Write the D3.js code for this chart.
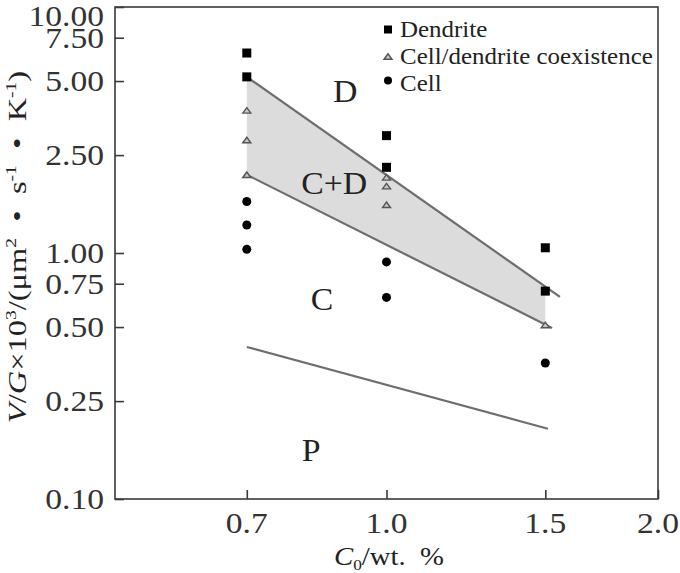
<!DOCTYPE html>
<html><head><meta charset="utf-8">
<script src="https://cdn.jsdelivr.net/npm/d3@7"></script>
<style>
html,body{margin:0;padding:0;background:#fff;}
svg{display:block;}
svg text{font-family:"Liberation Serif","Times New Roman",serif;}
</style></head>
<body>
<svg id="chart" width="680" height="573"></svg>
<script>
// ---- data ----
const yTicks = [0.10, 0.25, 0.50, 0.75, 1.00, 2.50, 5.00, 7.50, 10.00];
const yTickLabels = ["0.10","0.25","0.50","0.75","1.00","2.50","5.00","7.50","10.00"];
const xTicks = [0.7, 1.0, 1.5, 2.0];
const xTickLabels = ["0.7","1.0","1.5","2.0"];

const dendriteX = [0.7, 0.7, 1.0, 1.0, 1.5, 1.5];
const dendriteY = [6.5, 5.2, 3.0, 2.23, 1.05, 0.70];
const coexistX = [0.7, 0.7, 0.7, 1.0, 1.0, 1.0, 1.5];
const coexistY = [3.8, 2.88, 2.08, 2.03, 1.87, 1.57, 0.51];
const cellX = [0.7, 0.7, 0.7, 1.0, 1.0, 1.5];
const cellY = [1.62, 1.30, 1.035, 0.92, 0.66, 0.357];

// boundary lines (C0, V/G)
const upperLine = [[0.7, 5.2], [1.557, 0.663]];
const lowerLine = [[0.7, 2.08], [1.526, 0.496]];
const planarLine = [[0.7, 0.415], [1.51, 0.193]];
const shadeArea = [[0.7, 5.2], [1.5, 0.73], [1.5, 0.512], [0.7, 2.08]];

const regionNames = ["D", "C+D", "C", "P"];
const regionX = [0.9, 0.875, 0.848, 0.825];
const regionY = [4.1, 1.737, 0.586, 0.143];

const legendNames = ["Dendrite", "Cell/dendrite coexistence", "Cell"];

// ---- layout ----
const FONT = "Liberation Serif";
const svg = d3.select("#chart");
const L = 115, R = 658, T = 7, B = 499;
const x = d3.scaleLog().domain([0.5, 2.0]).range([L, R]);
const y = d3.scaleLog().domain([0.1, 10]).range([B, T]);
const SX = 1.09;
const axisColor = "#3a3a3a";
const lineColor = "#6e6e6e";

// shading
svg.append("path")
  .attr("d", d3.line().x(d => x(d[0])).y(d => y(d[1]))(shadeArea) + "Z")
  .attr("fill", "#dcdcdc").attr("stroke", "none");

// boundary lines
[upperLine, lowerLine, planarLine].forEach(ln => {
  svg.append("path")
    .attr("d", d3.line().x(d => x(d[0])).y(d => y(d[1]))(ln))
    .attr("fill", "none").attr("stroke", lineColor).attr("stroke-width", 2.2);
});

// frame
svg.append("rect").attr("x", L).attr("y", T).attr("width", R - L).attr("height", B - T)
  .attr("fill", "none").attr("stroke", axisColor).attr("stroke-width", 1.6);

// axes ticks (inward) via d3 axes
const yAxis = d3.axisRight(y).tickValues(yTicks).tickSize(9).tickFormat("");
const gy = svg.append("g").attr("transform", `translate(${L},0)`).call(yAxis);
gy.select(".domain").remove();
gy.selectAll("line").attr("stroke", axisColor).attr("stroke-width", 1.6);

const xAxis = d3.axisTop(x).tickValues(xTicks).tickSize(9).tickFormat("");
const gx = svg.append("g").attr("transform", `translate(0,${B})`).call(xAxis);
gx.select(".domain").remove();
gx.selectAll("line").attr("stroke", axisColor).attr("stroke-width", 1.6);

// tick labels
yTicks.forEach((v, i) => {
  const yy = Math.max(y(v), 16);
  svg.append("text")
    .attr("transform", `translate(104,${yy}) scale(1.12,1)`)
    .attr("text-anchor", "end").attr("dy", "0.34em")
    .attr("font-family", FONT)
    .attr("font-size", 30).attr("fill", "#333")
    .text(yTickLabels[i]);
});
xTicks.forEach((v, i) => {
  svg.append("text")
    .attr("transform", `translate(${x(v)},533) scale(1.12,1)`)
    .attr("text-anchor", "middle")
    .attr("font-family", FONT)
    .attr("font-size", 30).attr("fill", "#333")
    .text(xTickLabels[i]);
});

// x title
const xt = svg.append("text")
  .attr("transform", `translate(389,565) scale(1.15,1)`)
  .attr("text-anchor", "middle").attr("font-size", 25).attr("fill", "#222")
  .attr("font-family", FONT);
xt.append("tspan").attr("font-style", "italic").text("C");
xt.append("tspan").attr("font-size", 15).attr("dy", 5).text("0");
xt.append("tspan").attr("dy", -5).text("/wt.\u2002%");

// y title
const yt = svg.append("text")
  .attr("transform", `translate(26,247) rotate(-90) scale(1.3,1)`)
  .attr("text-anchor", "middle").attr("font-size", 25).attr("fill", "#222")
  .attr("font-family", FONT);
yt.append("tspan").attr("font-style", "italic").text("V");
yt.append("tspan").text("/");
yt.append("tspan").attr("font-style", "italic").text("G");
yt.append("tspan").text("\u00D710");
yt.append("tspan").attr("font-size", 15).attr("dy", -10).text("3");
yt.append("tspan").attr("dy", 10).text("/(\u03BCm");
yt.append("tspan").attr("font-size", 15).attr("dy", -10).text("2");
yt.append("tspan").attr("dy", 10).text("\u2002\u2022\u2002s");
yt.append("tspan").attr("font-size", 15).attr("dy", -10).text("-1");
yt.append("tspan").attr("dy", 10).text("\u2002\u2022\u2002K");
yt.append("tspan").attr("font-size", 15).attr("dy", -10).text("-1");
yt.append("tspan").attr("dy", 10).text(")");

// region labels
regionNames.forEach((nm, i) => {
  svg.append("text")
    .attr("transform", `translate(${x(regionX[i])},${y(regionY[i])}) scale(${SX},1)`)
    .attr("text-anchor", "middle").attr("font-size", 31).attr("fill", "#222")
    .attr("font-family", FONT)
    .text(nm);
});

// markers
const tri = (cx, cy, w, h) => `M${cx - w / 2},${cy + h / 2}L${cx},${cy - h / 2}L${cx + w / 2},${cy + h / 2}Z`;

svg.append("g").selectAll("rect").data(d3.range(dendriteX.length)).join("rect")
  .attr("x", i => x(dendriteX[i]) - 4.5).attr("y", i => y(dendriteY[i]) - 4.5)
  .attr("width", 9).attr("height", 9).attr("fill", "#000");

svg.append("g").selectAll("path").data(d3.range(coexistX.length)).join("path")
  .attr("d", i => tri(x(coexistX[i]), y(coexistY[i]), 8, 5.5))
  .attr("fill", "#c8c8c8").attr("stroke", "#555").attr("stroke-width", 1.4);

svg.append("g").selectAll("circle").data(d3.range(cellX.length)).join("circle")
  .attr("cx", i => x(cellX[i])).attr("cy", i => y(cellY[i])).attr("r", 4.5)
  .attr("fill", "#000");

// legend
const lgX = 388, lgY0 = 29.5, lgDy = 27;
const lg = svg.append("g");
legendNames.forEach((nm, i) => {
  const cy = lgY0 + i * lgDy;
  if (i === 0) lg.append("rect").attr("x", lgX - 4).attr("y", cy - 4).attr("width", 8).attr("height", 8).attr("fill", "#000");
  if (i === 1) lg.append("path").attr("d", tri(lgX, cy, 8, 5.5)).attr("fill", "#c8c8c8").attr("stroke", "#555").attr("stroke-width", 1.4);
  if (i === 2) lg.append("circle").attr("cx", lgX).attr("cy", cy - 3).attr("r", 4).attr("fill", "#000");
  lg.append("text")
    .attr("transform", `translate(400,${cy + 7.5}) scale(1.085,1)`)
    .attr("font-family", FONT)
    .attr("font-size", 23).attr("fill", "#222").text(nm);
});
</script>
</body></html>
